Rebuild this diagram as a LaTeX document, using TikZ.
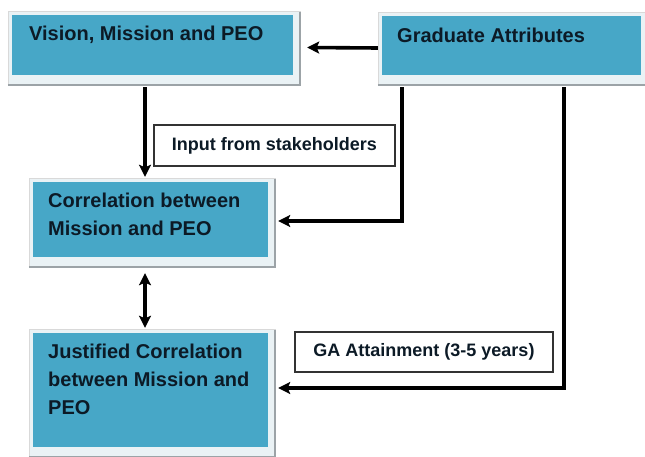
\documentclass[tikz,border=0pt]{standalone}
\usepackage{fontspec}
\setmainfont{Liberation Sans}
\usetikzlibrary{arrows.meta,calc,backgrounds}
\definecolor{boxblue}{HTML}{47A7C7}
\definecolor{rimcol}{HTML}{EAF2F5}
\definecolor{shadecol}{HTML}{9CA3A7}
\definecolor{txtcol}{HTML}{0C1A26}
\begin{document}
\begin{tikzpicture}[x=1pt,y=-1pt,
  box/.style={fill=boxblue, draw=none, inner sep=0pt},
  boxtxt/.style={text=txtcol, font=\fontsize{20}{28}\selectfont\bfseries, inner sep=0pt, align=left},
  labbox/.style={draw=black!80, line width=1.4pt, fill=white, inner sep=0pt,
    font=\fontsize{18}{22}\selectfont\bfseries, text=txtcol},
  tip/.tip={Stealth[length=12pt,width=12pt,inset=2.5pt]},
  arr/.style={line width=3.6pt, -tip},
  darr/.style={line width=3.6pt, tip-tip}
]
\useasboundingbox (0,0) rectangle (645,457);

% helper coordinates for vertical connector positions
\coordinate (c145) at (145,0);
\coordinate (c402) at (402,0);
\coordinate (c564) at (564,0);

% boxes
\node[box, minimum width=281pt, minimum height=60pt] (b1) at (152.5,45) {};
\node[box, minimum width=259pt, minimum height=59pt] (ga) at (511.5,45.5) {};
\node[box, minimum width=235pt, minimum height=75pt] (b2) at (150.5,219.5) {};
\node[box, minimum width=235pt, minimum height=114pt] (b3) at (150.5,390) {};

% box texts
\node[boxtxt, anchor=west] (t1) at (29,35) {Vision, Mission and PEO};
\node[boxtxt, anchor=west] (t2) at (397,35) {Graduate Attributes};
\node[boxtxt, anchor=west] (t3) at (48,214) {Correlation between\\Mission and PEO};
\node[boxtxt, anchor=west] (t4) at (48,379.5) {Justified Correlation\\between Mission and\\PEO};

% label boxes
\node[labbox, minimum width=241pt, minimum height=41pt] (inp) at (274.5,145.5) {Input from stakeholders};
\node[labbox, minimum width=258pt, minimum height=40pt] (gaa) at (424,352) {GA Attainment (3-5 years)};

% connectors
\draw[arr] ($(ga.west)+(-4pt,-2.5pt)$) -- ($(b1.east)+(14pt,-2.5pt)$);
\draw[arr] ($(b1.south -| c145)+(0,-12pt)$) -- ($(b2.north -| c145)+(0,5pt)$);
\draw[arr] ($(ga.south -| c402)+(0,-12pt)$) |- ($(b2.east)+(10pt,-1.5pt)$);
\draw[darr] ($(b2.south -| c145)+(0,-16pt)$) -- ($(b3.north -| c145)+(0,5pt)$);
\draw[arr] ($(ga.south -| c564)+(0,-12pt)$) |- ($(b3.east)+(10pt,2pt)$);

% frames and shadows
\begin{pgfonlayer}{background}
  \fill[white] (0,0) rectangle (645,457);
  \foreach \n in {b1,ga,b2,b3} {
    \fill[rimcol, draw=gray!30, line width=0.8pt]
      ($(\n.north west)+(-3pt,3pt)$) rectangle ($(\n.south east)+(7pt,-10pt)$);
    \draw[shadecol, line width=1.6pt]
      ($(\n.south west)+(-4pt,-10pt)$) -- ($(\n.south east)+(7pt,-10pt)$) -- ($(\n.north east)+(7pt,3pt)$);
  }
\end{pgfonlayer}
\end{tikzpicture}
\end{document}
